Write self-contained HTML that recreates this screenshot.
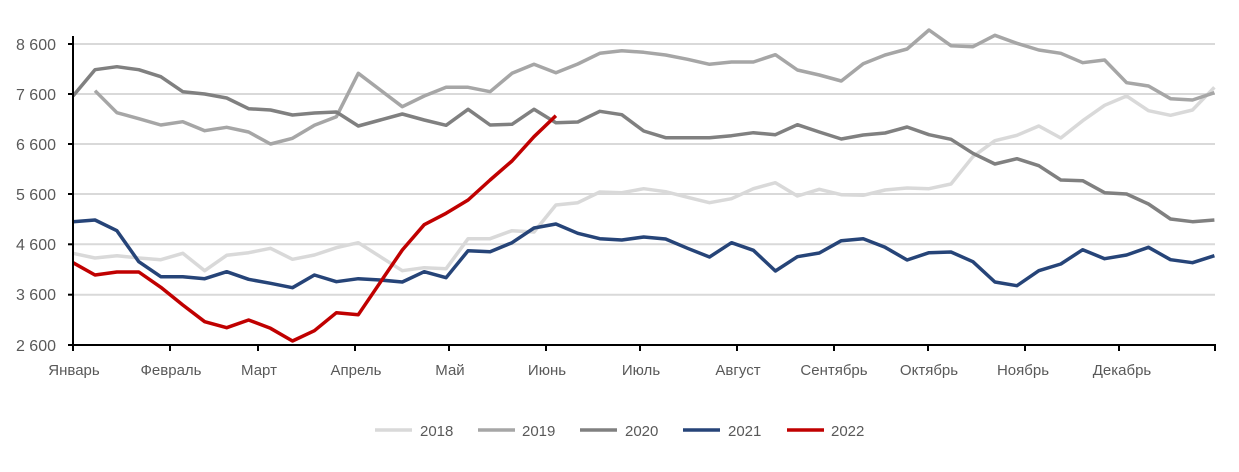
<!DOCTYPE html>
<html><head><meta charset="utf-8"><style>
html,body{margin:0;padding:0;background:#fff;}
svg{display:block;font-family:"Liberation Sans",sans-serif;}
</style></head><body>
<svg id="c" width="1239" height="472" viewBox="0 0 1239 472" xmlns="http://www.w3.org/2000/svg">
<g stroke="#d9d9d9" stroke-width="2">
<line x1="73" y1="44" x2="1215" y2="44"/><line x1="73" y1="94" x2="1215" y2="94"/>
<line x1="73" y1="144" x2="1215" y2="144"/><line x1="73" y1="194" x2="1215" y2="194"/>
<line x1="73" y1="244.3" x2="1215" y2="244.3"/><line x1="73" y1="294.7" x2="1215" y2="294.7"/>
</g>
<g fill="#595959" font-size="16" text-anchor="end">
<text x="56" y="50">8 600</text><text x="56" y="100">7 600</text><text x="56" y="150">6 600</text>
<text x="56" y="200">5 600</text><text x="56" y="250">4 600</text><text x="56" y="300">3 600</text><text x="56" y="351">2 600</text>
</g>
<g fill="#595959" font-size="15" text-anchor="middle">
<text x="74" y="375">Январь</text><text x="171" y="375">Февраль</text><text x="259" y="375">Март</text>
<text x="356" y="375">Апрель</text><text x="450" y="375">Май</text><text x="547" y="375">Июнь</text>
<text x="641" y="375">Июль</text><text x="738" y="375">Август</text><text x="834" y="375">Сентябрь</text>
<text x="929" y="375">Октябрь</text><text x="1023" y="375">Ноябрь</text><text x="1122" y="375">Декабрь</text>
</g>
<g id="series" fill="none" stroke-width="3.5" stroke-linejoin="round"></g>
<g stroke="#000" stroke-width="2">
<line x1="73" y1="36" x2="73" y2="346"/><line x1="72" y1="345" x2="1216" y2="345"/>
<line x1="68" y1="44" x2="73" y2="44"/><line x1="68" y1="94" x2="73" y2="94"/><line x1="68" y1="144" x2="73" y2="144"/>
<line x1="68" y1="194" x2="73" y2="194"/><line x1="68" y1="244.3" x2="73" y2="244.3"/><line x1="68" y1="294.7" x2="73" y2="294.7"/><line x1="68" y1="345" x2="73" y2="345"/>
</g>
<g id="ticks" stroke="#000" stroke-width="2"></g>
<g font-size="15" fill="#595959">
<line x1="375" y1="430" x2="412" y2="430" stroke="#d9d9d9" stroke-width="3.5"/><text x="420" y="436">2018</text>
<line x1="478" y1="430" x2="515" y2="430" stroke="#a6a6a6" stroke-width="3.5"/><text x="522" y="436">2019</text>
<line x1="580" y1="430" x2="617" y2="430" stroke="#808080" stroke-width="3.5"/><text x="625" y="436">2020</text>
<line x1="683" y1="430" x2="720" y2="430" stroke="#264478" stroke-width="3.5"/><text x="728" y="436">2021</text>
<line x1="787" y1="430" x2="824" y2="430" stroke="#c00000" stroke-width="3.5"/><text x="831" y="436">2022</text>
</g>
</svg>
<script>
var ns="http://www.w3.org/2000/svg";
var S=[
["#d9d9d9",0,[700,714,707,714,719,700,752,706,698,685,718,705,683,668,710,752,743,746,656,656,632,636,555,548,516,518,506,515,532,548,536,506,488,528,508,524,526,510,504,506,492,410,362,346,318,354,302,256,228,272,286,270,202]],
["#a6a6a6",1,[212,278,296,315,305,332,322,336,372,355,316,290,160,210,260,228,202,202,215,160,133,158,132,100,92,97,105,118,133,126,126,104,150,165,183,131,105,87,30,77,80,46,70,90,100,128,120,188,198,236,240,218]],
["#808080",0,[228,149,140,149,170,215,222,234,266,270,285,279,276,318,300,282,300,316,268,315,313,268,308,306,274,284,333,353,353,353,347,338,344,314,336,357,345,339,321,344,358,400,432,416,437,480,482,518,522,552,597,605,600]],
["#264478",0,[605,600,632,725,770,770,776,755,778,790,803,765,785,776,780,786,755,773,692,695,668,624,612,640,656,660,651,657,685,711,668,691,753,710,699,662,656,682,720,698,696,725,786,797,752,732,689,716,705,682,719,728,707]],
["#c00000",0,[728,765,756,756,802,855,905,923,900,925,963,932,878,884,787,690,614,580,540,480,423,350,287]]
];
var g=document.getElementById("series");
S.forEach(function(s){var p=[];s[2].forEach(function(v,k){var i=k+s[1];p.push((73+21.95*i).toFixed(1)+","+(20+v/3).toFixed(1));});
var e=document.createElementNS(ns,"polyline");e.setAttribute("points",p.join(" "));e.setAttribute("stroke",s[0]);g.appendChild(e);});
var t=document.getElementById("ticks");
[73,170,258,355,449,546,640,737,834,928,1025,1119,1215].forEach(function(x){var l=document.createElementNS(ns,"line");
l.setAttribute("x1",x);l.setAttribute("x2",x);l.setAttribute("y1",345);l.setAttribute("y2",351);t.appendChild(l);});
</script>
</body></html>
